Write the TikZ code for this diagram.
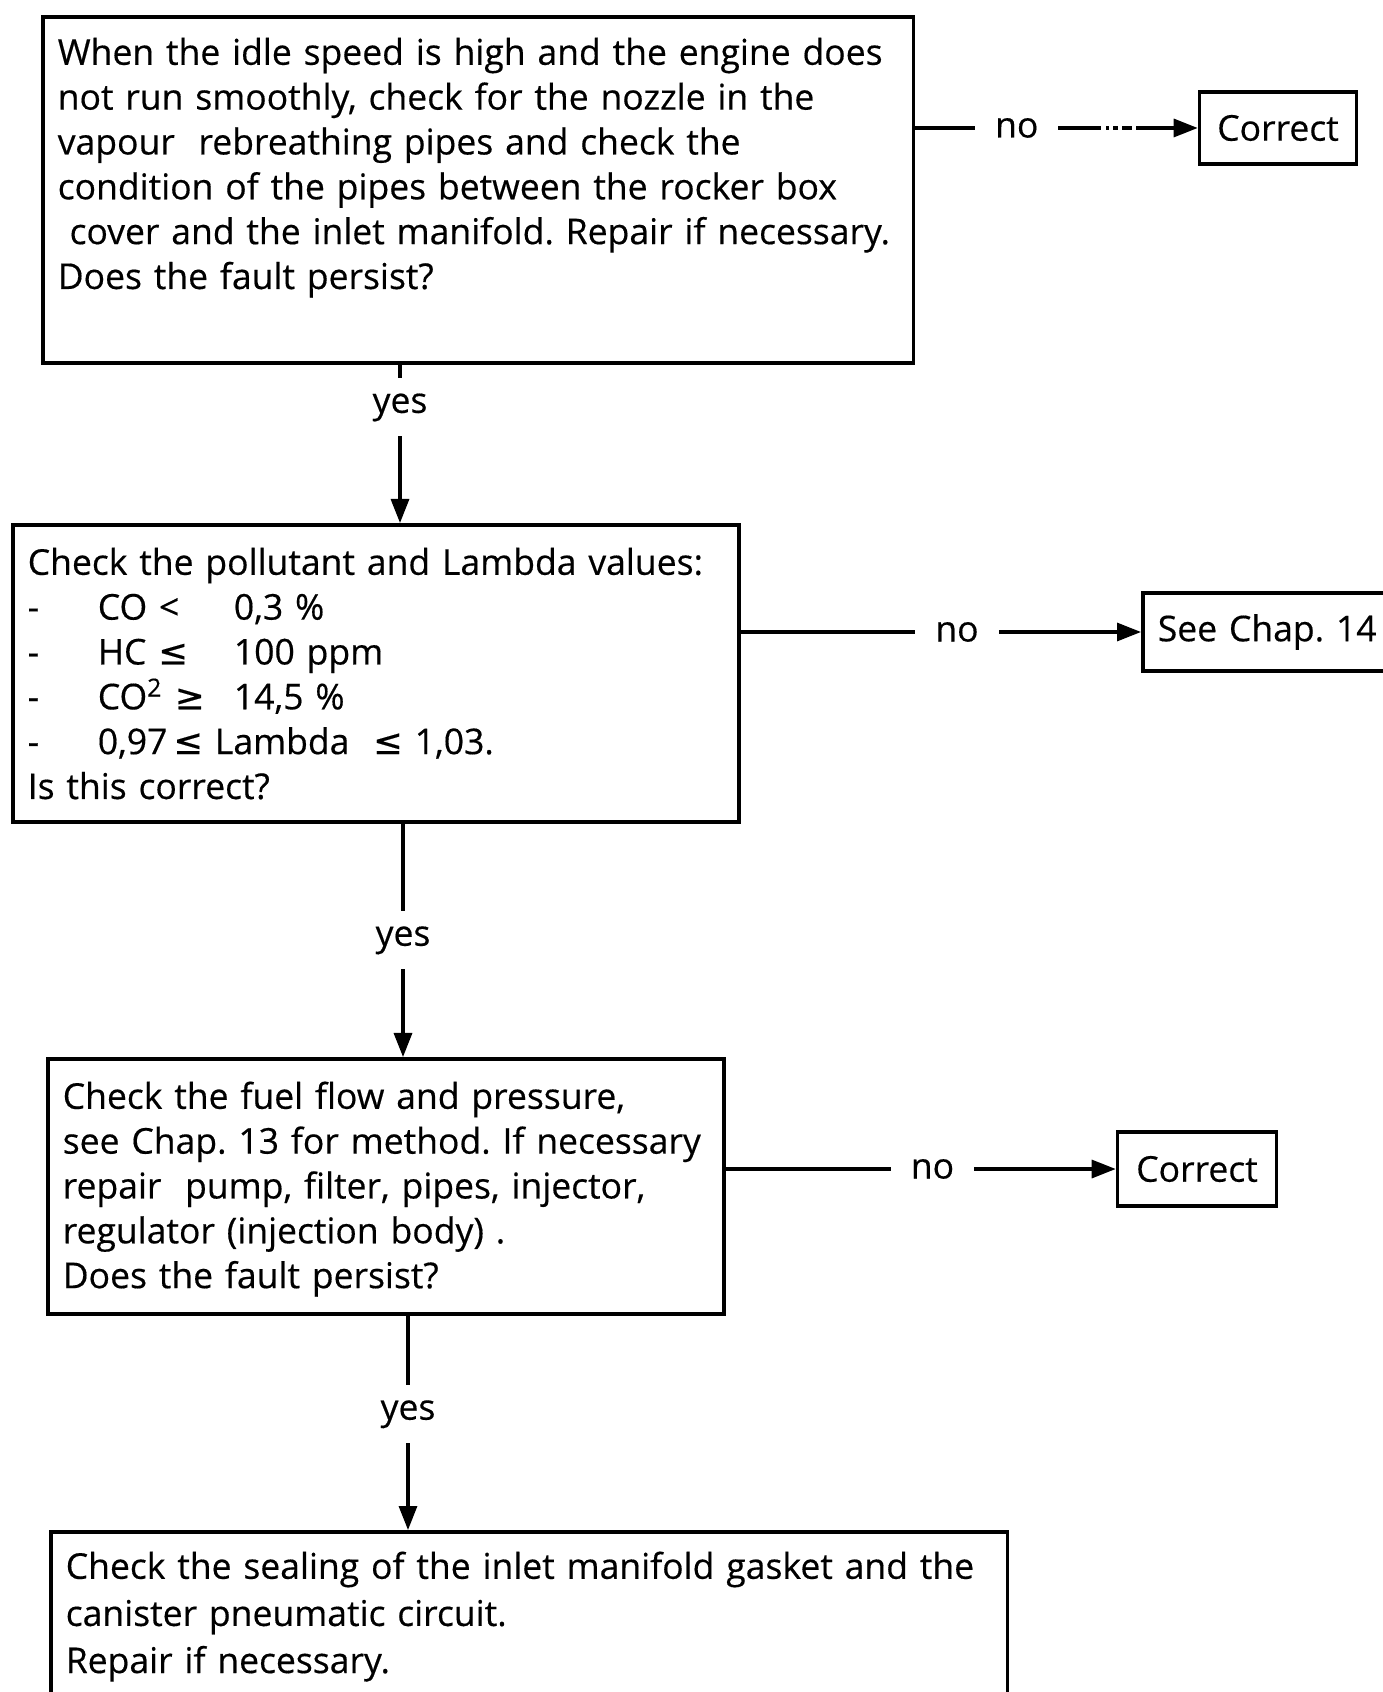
\documentclass[tikz,border=0pt]{standalone}
\usepackage{fontspec}
\setmainfont{Open Sans}[FakeBold=0.4]
\newfontfamily\relfont{DejaVu Sans}[FakeBold=0.4]
\usetikzlibrary{arrows.meta,positioning}

% relation signs taken from DejaVu
\newcommand{\lesign}{{\relfont ≤}}
\newcommand{\gesign}{{\relfont ≥}}
% one "- name  value" row of the limits list
\newcommand{\valrow}[2]{\makebox[0.70cm][l]{-}\makebox[1.36cm][l]{#1}#2}
\newcommand{\chartfont}{\fontsize{10.1}{12.75}\selectfont\frenchspacing}

\tikzset{
  stepbox/.style={draw, line width=1pt, anchor=north west, align=left,
    inner xsep=0.15cm, inner ysep=0pt, font=\chartfont},
  endbox/.style={draw, line width=1pt, inner xsep=0.15cm, inner ysep=0pt,
    font=\chartfont},
  flow/.style={line width=0.9pt, -{Triangle[length=0.24cm,width=0.18cm]}},
  answer/.style={fill=white, inner xsep=0.2cm, inner ysep=0.15cm, font=\chartfont},
}

\begin{document}
\begin{tikzpicture}[x=0.01cm, y=-0.01cm]
\useasboundingbox (0,0) rectangle (1383,1692);
\clip (0,0) rectangle (1383,1692);

% questions down the left
\node[stepbox, text width=8.40cm, text height=0.48cm, text depth=2.98cm] (q1) at (41,15)
  {When the idle speed is high and the engine does\\
   not run smoothly, check for the nozzle in the\\
   vapour\ \ rebreathing pipes and check the\\
   condition of the pipes between the rocker box\\
   \ cover and the inlet manifold. Repair if necessary.\\
   Does the fault persist?};
\node[stepbox, text width=6.96cm, text height=0.50cm, text depth=2.47cm] (q2) at (11,523)
  {Check the pollutant and Lambda values:\\
   \valrow{CO <}{0,3 \%}\\
   \valrow{HC \lesign}{100 ppm}\\
   \valrow{CO\textsuperscript{2} \gesign}{14,5 \%}\\
   \makebox[0.70cm][l]{-}0,97\,\lesign\ Lambda\ \ \lesign\ 1,03.\\
   Is this correct?};
\node[stepbox, text width=6.46cm, text height=0.50cm, text depth=2.05cm] (q3) at (46,1057)
  {Check the fuel flow and pressure,\\
   see Chap. 13 for method. If necessary\\
   repair\ \ pump, filter, pipes, injector,\\
   regulator (injection body) .\\
   Does the fault persist?};
\node[stepbox, text width=9.26cm, text height=0.47cm, text depth=2.00cm,
  font=\fontsize{10.1}{13.4}\selectfont\frenchspacing] (q4) at (49,1530)
  {Check the sealing of the inlet manifold gasket and the\\
   canister pneumatic circuit.\\
   Repair if necessary.};

% outcomes on the right
\node[endbox, minimum width=1.57cm, minimum height=0.72cm] (ok1) at (1278,128) {Correct};
\node[endbox, anchor=west, text width=2.30cm, align=left, minimum height=0.78cm] (chap14) at (1141,632) {See Chap. 14};
\node[endbox, minimum width=1.59cm, minimum height=0.74cm] (ok3) at (1197,1169) {Correct};

% yes branches
\draw[flow] (q1.south -| 400,0) -- node[answer, pos=0.27] {yes} (q2.north -| 400,0);
\draw[flow] (q2.south -| 403,0) -- node[answer, pos=0.50] {yes} (q3.north -| 403,0);
\draw[flow] (q3.south -| 408,0) -- node[answer, pos=0.46] {yes} (q4.north -| 408,0);

% no branches
\draw[flow, dash pattern=on 1.86cm off 0.05cm on 0.03cm off 0.04cm on 0.05cm off 0.04cm on 0.10cm off 0.04cm on 3cm]
  (q1.east |- ok1) -- node[answer, pos=0.36] {no} (ok1);
\draw[flow] (q2.east |- chap14) -- node[answer, pos=0.54] {no} (chap14);
\draw[flow] (q3.east |- ok3) -- node[answer, pos=0.53] {no} (ok3);
\end{tikzpicture}
\end{document}
